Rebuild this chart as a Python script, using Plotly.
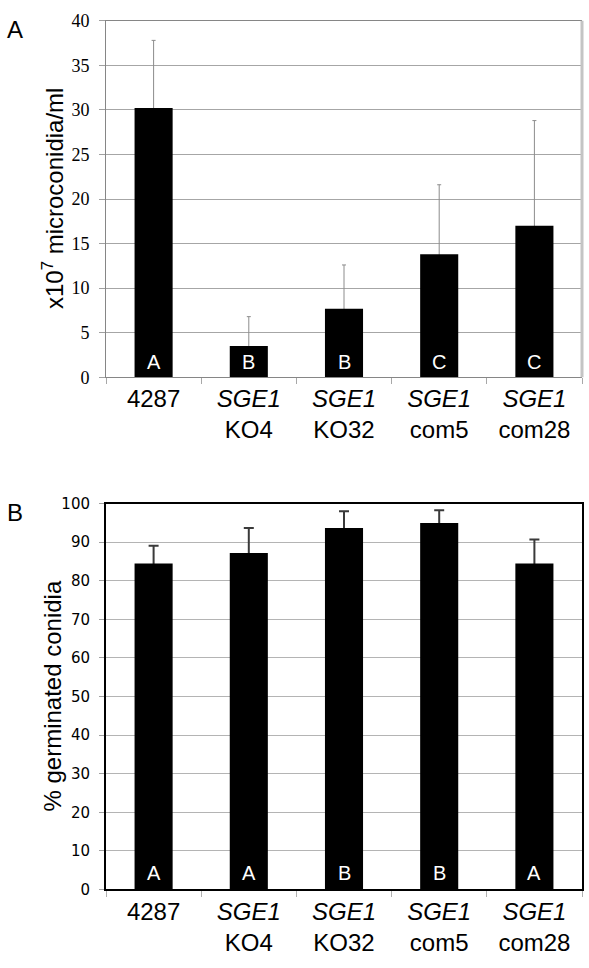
import plotly.graph_objects as go

# ---------------- data ----------------
strains = ["4287", "SGE1 KO4", "SGE1 KO32", "SGE1 com5", "SGE1 com28"]
strain_labels = ["4287", "<i>SGE1</i><br>KO4", "<i>SGE1</i><br>KO32",
                 "<i>SGE1</i><br>com5", "<i>SGE1</i><br>com28"]

micro_mean = [30.2, 3.5, 7.7, 13.8, 17.0]
micro_err = [7.6, 3.3, 4.9, 7.8, 11.8]
micro_groups = ["A", "B", "B", "C", "C"]
micro_ticks = [0, 5, 10, 15, 20, 25, 30, 35, 40]

germ_mean = [84.5, 87.2, 93.7, 95.0, 84.5]
germ_err = [4.6, 6.5, 4.3, 3.3, 6.2]
germ_groups = ["A", "A", "B", "B", "A"]
germ_ticks = [0, 10, 20, 30, 40, 50, 60, 70, 80, 90, 100]

# ---------------- figure ----------------
W, H = 589, 968
fig = go.Figure()


def add_panel(xa, ya, means, errs, ecolor, ethick, ewidth):
    # transparent bars carrying the error bars (lower half hidden by the black bars)
    fig.add_trace(go.Bar(
        x=strains, y=means, xaxis=xa, yaxis=ya,
        marker=dict(color="rgba(0,0,0,0)", line=dict(width=0)),
        error_y=dict(type="data", symmetric=True, array=errs,
                     color=ecolor, thickness=ethick, width=ewidth),
        showlegend=False, hoverinfo="skip",
    ))
    fig.add_trace(go.Bar(
        x=strains, y=means, xaxis=xa, yaxis=ya,
        marker=dict(color="black", line=dict(width=0)),
        showlegend=False, hoverinfo="skip",
    ))


add_panel("x", "y", micro_mean, micro_err, "#8c8c8c", 1, 2)
add_panel("x2", "y2", germ_mean, germ_err, "#3a3a3a", 2, 5)

xdom = [106 / W, 582 / W]
ydomA = [1 - 375 / H, 1 - 11 / H]
ydomB = [1 - 898 / H, 1 - 504 / H]
xrange_cat = [-0.5, len(strains) - 0.5]

cat_font = dict(family="Liberation Sans", size=24, color="black")

fig.update_layout(
    width=W, height=H,
    margin=dict(l=0, r=0, t=0, b=0),
    paper_bgcolor="white", plot_bgcolor="white",
    barmode="overlay",
    bargap=0.6,
    xaxis=dict(
        domain=xdom, anchor="y", type="category",
        categoryorder="array", categoryarray=strains, range=xrange_cat,
        tickvals=strains, ticktext=strain_labels, tickfont=cat_font,
        showline=True, linecolor="#868686", linewidth=1, mirror=True,
        ticks="outside", tickson="boundaries", ticklen=6, tickcolor="#a8a8a8",
        showgrid=False, fixedrange=True,
    ),
    yaxis=dict(
        domain=ydomA, anchor="x", range=[0, 40],
        tickvals=micro_ticks,
        tickfont=dict(family="Liberation Serif", size=18, color="black"),
        ticklabelstandoff=6,
        showline=True, linecolor="#868686", linewidth=1,
        ticks="outside", ticklen=6, tickcolor="#a0a0a0",
        showgrid=True, gridcolor="#a6a6a6", gridwidth=1,
        zeroline=False, fixedrange=True,
    ),
    xaxis2=dict(
        domain=xdom, anchor="y2", type="category",
        categoryorder="array", categoryarray=strains, range=xrange_cat,
        tickvals=strains, ticktext=strain_labels, tickfont=cat_font,
        showline=True, linecolor="black", linewidth=2, mirror=True,
        ticks="outside", tickson="boundaries", ticklen=6, tickcolor="#b0b0b0",
        showgrid=False, fixedrange=True,
    ),
    yaxis2=dict(
        domain=ydomB, anchor="x2", range=[0, 100],
        tickvals=germ_ticks,
        tickfont=dict(family="DejaVu Sans", size=15, color="black"),
        ticklabelstandoff=6,
        showline=True, linecolor="black", linewidth=2, mirror=True,
        ticks="outside", ticklen=5, tickcolor="#a0a0a0",
        showgrid=True, gridcolor="#b4b4b4", gridwidth=1,
        zeroline=False, fixedrange=True,
    ),
)

# light right border on panel A
fig.add_shape(type="line", xref="x domain", yref="y domain",
              x0=1, x1=1, y0=0, y1=1, line=dict(color="#c4c4c4", width=3))

# group letters inside bars (placed by category index)
for i, g in enumerate(micro_groups):
    fig.add_annotation(x=i, y=0, xref="x", yref="y", text=g, showarrow=False,
                       yanchor="middle", yshift=15,
                       font=dict(family="Liberation Sans", size=20, color="white"))
for i, g in enumerate(germ_groups):
    fig.add_annotation(x=i, y=0, xref="x2", yref="y2", text=g, showarrow=False,
                       yanchor="middle", yshift=16,
                       font=dict(family="Liberation Sans", size=20, color="white"))

# axis titles
fig.add_annotation(x=53 / W, y=(ydomA[0] + ydomA[1]) / 2, xref="paper", yref="paper",
                   text="x10<sup>7</sup> microconidia/ml", textangle=-90, showarrow=False,
                   xanchor="center", yanchor="middle",
                   font=dict(family="Liberation Sans", size=24, color="black"))
fig.add_annotation(x=53 / W, y=(ydomB[0] + ydomB[1]) / 2, xref="paper", yref="paper",
                   text="% germinated conidia", textangle=-90, showarrow=False,
                   xanchor="center", yanchor="middle",
                   font=dict(family="Liberation Sans", size=24, color="black"))

# panel letters
fig.add_annotation(x=15 / W, y=1 - 20 / H, xref="paper", yref="paper", text="A",
                   showarrow=False, xanchor="center", yanchor="middle",
                   font=dict(family="Liberation Sans", size=24, color="black"))
fig.add_annotation(x=15 / W, y=1 - 513 / H, xref="paper", yref="paper", text="B",
                   showarrow=False, xanchor="center", yanchor="middle",
                   font=dict(family="Liberation Sans", size=24, color="black"))

fig.write_html(
    "out.html",
    config={"displayModeBar": False},
    post_script="document.body.style.margin='0';document.body.style.padding='0';"
                "document.documentElement.style.overflow='hidden';",
)
